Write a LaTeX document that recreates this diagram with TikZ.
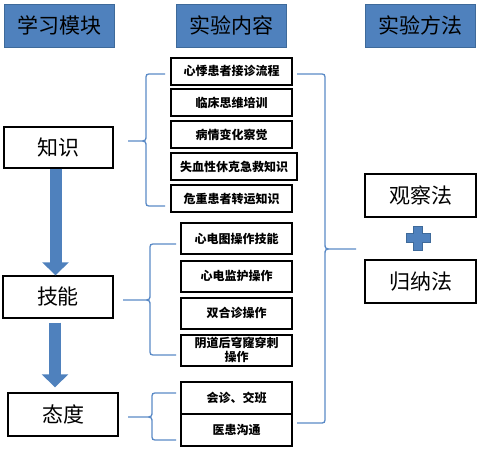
\documentclass[tikz,border=0pt]{standalone}
\usepackage{fontspec}
\newfontfamily\cjk{Noto Sans CJK SC}
\usetikzlibrary{arrows.meta,calc}
\definecolor{hdblue}{HTML}{4F81BD}
\definecolor{hdline}{HTML}{3E6A9A}
\definecolor{brblue}{HTML}{5A8AC6}
\tikzset{
  header/.style={draw=hdline, fill=hdblue, line width=1pt, minimum width=110pt, minimum height=43pt, font=\cjk\fontsize{21}{21}\selectfont},
  module/.style={draw=black, line width=1.4pt, minimum width=110pt, minimum height=42pt, font=\cjk\fontsize{21}{21}\selectfont},
  item/.style={draw=black, line width=2pt, minimum width=121pt, minimum height=27pt, inner sep=1pt, align=center, font=\cjk\bfseries\fontsize{12}{14}\selectfont},
  brace/.style={draw=brblue, line width=1.3pt},
  bigarrow/.style={draw=hdblue, line width=12pt, -{Triangle[width=26pt,length=13pt]}}
}
% left brace: end x, stem x, tip x, top y, tip y, bottom y
\newcommand{\leftbrace}[6]{%
  \draw[brace] (#1,#4) -- ({#2+6},#4) .. controls (#2,#4) .. (#2,{#4+6}) -- (#2,{#5-6}) .. controls (#2,#5) .. ({#2-8},#5) -- (#3,#5)
    -- ({#2-8},#5) .. controls (#2,#5) .. (#2,{#5+6}) -- (#2,{#6-6}) .. controls (#2,#6) .. ({#2+6},#6) -- (#1,#6);}
% right brace, same arguments
\newcommand{\rightbrace}[6]{%
  \draw[brace] (#1,#4) -- ({#2-6},#4) .. controls (#2,#4) .. (#2,{#4+6}) -- (#2,{#5-6}) .. controls (#2,#5) .. ({#2+8},#5) -- (#3,#5)
    -- ({#2+8},#5) .. controls (#2,#5) .. (#2,{#5+6}) -- (#2,{#6-6}) .. controls (#2,#6) .. ({#2-6},#6) -- (#1,#6);}
\begin{document}
\begin{tikzpicture}[x=1pt,y=-1pt]
  \useasboundingbox (0,0) rectangle (485,450);

  % column headers
  \node[header] (hmod) at (59,25.5) {学习模块};
  \node[header] (hcon) at (231.5,25.5) {实验内容};
  \node[header] (hmet) at (420,25.5) {实验方法};

  % learning modules
  \node[module, minimum width=109pt, minimum height=41pt] (zs) at (58.5,147.5) {知识};
  \node[module] (jn) at (58,297) {技能};
  \node[module, minimum height=43pt] (td) at (63,414.5) {态度};

  % big arrows between modules
  \draw[bigarrow] ([xshift=-3pt]zs.south) -- ([xshift=-3pt]zs.south |- jn.north);
  \draw[bigarrow, shorten >=5pt] ([xshift=-3pt,yshift=-4pt]jn.south) -- ([xshift=-3pt]jn.south |- td.north);

  % knowledge contents
  \node[item] (c1) at (231.5,71) {心悸患者接诊流程};
  \node[item] (c2) at (231.5,102.5) {临床思维培训};
  \node[item] (c3) at (231.5,134.5) {病情变化察觉};
  \node[item, minimum width=126pt] (c4) at (234,166.5) {失血性休克急救知识};
  \node[item] (c5) at (231.5,198.5) {危重患者转运知识};

  % skill contents
  \foreach \nm/\y/\txt in {s1/238.5/心电图操作技能, s2/276/心电监护操作, s3/313/双合诊操作, s4/350/{阴道后穹窿穿刺\\操作}}
    \node[item, minimum width=111pt, minimum height=31pt] (\nm) at (236.5,\y) {\txt};

  % attitude contents
  \node[item, minimum width=111pt, minimum height=32pt] (a1) at (236.5,398) {会诊、交班};
  \node[item, minimum width=111pt, minimum height=32pt] (a2) at (236.5,430) {医患沟通};

  % methods
  \node[module, minimum width=111pt, minimum height=43pt] (gc) at (420.5,195.5) {观察法};
  \node[module, minimum width=111pt, minimum height=43pt] (gn) at (420.5,281.5) {归纳法};
  \fill[hdblue, draw=hdline, line width=0.6pt] (413.5,226) -- (422.5,226) -- (422.5,233.5) -- (430,233.5) -- (430,242.5) -- (422.5,242.5) -- (422.5,250) -- (413.5,250) -- (413.5,242.5) -- (406,242.5) -- (406,233.5) -- (413.5,233.5) -- cycle;

  % braces
  \leftbrace{165}{146}{128}{74}{141}{206}
  \leftbrace{176}{150}{123}{244}{300}{355}
  \leftbrace{176}{152}{128}{393}{417}{440}
  \rightbrace{297}{325}{356}{74}{249}{423}
\end{tikzpicture}
\end{document}
